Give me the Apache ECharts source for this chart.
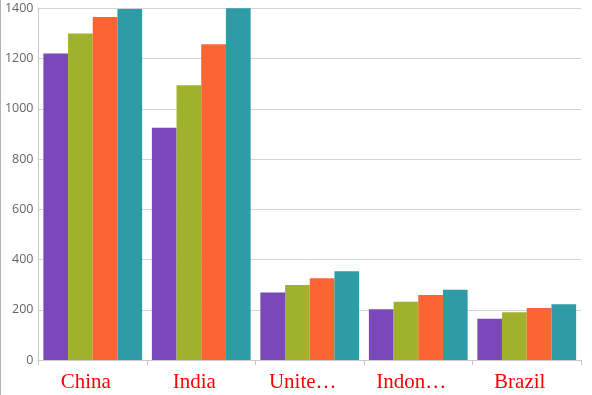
<!DOCTYPE html>
<html>
<head>
<meta charset="utf-8">
<script src="https://cdn.jsdelivr.net/npm/echarts@6/dist/echarts.min.js"></script>
<style>
html,body{margin:0;padding:0;background:#fff;}
#c{width:591px;height:395px;border-left:1px solid #b4b4b4;}
</style>
</head>
<body>
<div id="c"></div>
<script>
const categories = ['China', 'India', 'United States', 'Indonesia', 'Brazil'];
const series1 = [1220, 925, 269, 202, 164];
const series2 = [1300, 1094, 299, 232, 190];
const series3 = [1365, 1257, 325, 259, 207];
const series4 = [1397, 1400, 353, 280, 222];
const seriesNames = ['Series 1', 'Series 2', 'Series 3', 'Series 4'];
const colors = ['#7a48b9', '#a0b22b', '#fb6533', '#2d9ca7'];
const yMin = 0, yMax = 1400, yInterval = 200;

const chart = echarts.init(document.getElementById('c'));
const allData = [series1, series2, series3, series4];
chart.setOption({
  animation: false,
  grid: { left: 37.5, right: 11, top: 8.3, bottom: 35 },
  xAxis: {
    type: 'category',
    data: categories,
    axisLine: { lineStyle: { color: '#c8c8c8' } },
    axisTick: { show: true, length: 5, lineStyle: { color: '#c8c8c8' } },
    axisLabel: {
      color: '#ff0000',
      fontFamily: 'Liberation Serif',
      fontSize: 21,
      margin: 12,
      width: 75,
      overflow: 'truncate',
      ellipsis: '…',
      padding: [0, 14, 0, 0],
      interval: 0
    }
  },
  yAxis: {
    type: 'value',
    min: yMin, max: yMax, interval: yInterval,
    axisLine: { show: true, lineStyle: { color: '#c8c8c8' } },
    axisTick: { show: false },
    splitLine: { lineStyle: { color: '#d2d2d2' } },
    axisLabel: { color: '#666666', fontFamily: 'Open Sans', fontSize: 12.5, margin: 5, formatter: v => String(v) }
  },
  series: allData.map((d, i) => ({
    type: 'bar',
    name: seriesNames[i],
    data: d,
    barGap: '0%',
    barCategoryGap: '9%',
    itemStyle: { color: colors[i] }
  }))
});
</script>
</body>
</html>
